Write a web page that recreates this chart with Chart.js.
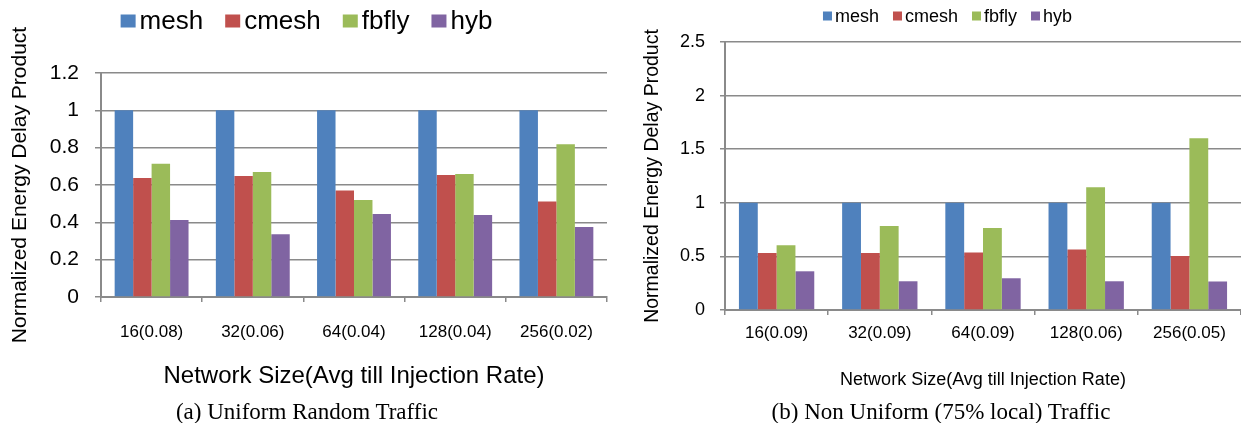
<!DOCTYPE html>
<html><head><meta charset="utf-8">
<script src="https://cdn.jsdelivr.net/npm/chart.js@4/dist/chart.umd.min.js"></script>
<style>
html,body{margin:0;padding:0;background:#fff;}
body{width:1241px;height:423px;position:relative;overflow:hidden;}
#ca{position:absolute;left:0;top:0;}
#cb{position:absolute;left:640px;top:0;}
.cap{position:absolute;font-family:'Liberation Serif','Times New Roman',serif;font-size:23px;color:#000;white-space:nowrap;transform:translate(-50%,-50%);line-height:1;}
</style></head><body>
<canvas id="ca" width="620" height="400"></canvas>
<canvas id="cb" width="601" height="400"></canvas>
<div class="cap" style="left:307px;top:411px">(a) Uniform Random Traffic</div>
<div class="cap" style="left:941px;top:411px">(b) Non Uniform (75% local) Traffic</div>
<script>
// ---- data ----
const seriesNames = ['mesh', 'cmesh', 'fbfly', 'hyb'];
const seriesColors = ['#4F81BD', '#C0504D', '#9BBB59', '#8064A2'];

const categoriesA = ['16(0.08)', '32(0.06)', '64(0.04)', '128(0.04)', '256(0.02)'];
const meshA  = [1, 1, 1, 1, 1];
const cmeshA = [0.637, 0.648, 0.570, 0.653, 0.511];
const fbflyA = [0.714, 0.669, 0.520, 0.659, 0.818];
const hybA   = [0.412, 0.336, 0.445, 0.439, 0.375];
const yTicksA = ['0', '0.2', '0.4', '0.6', '0.8', '1', '1.2'];

const categoriesB = ['16(0.09)', '32(0.09)', '64(0.09)', '128(0.06)', '256(0.05)'];
const meshB  = [1, 1, 1, 1, 1];
const cmeshB = [0.531, 0.531, 0.537, 0.565, 0.503];
const fbflyB = [0.604, 0.783, 0.764, 1.146, 1.603];
const hybB   = [0.361, 0.268, 0.296, 0.268, 0.266];
const yTicksB = ['0', '0.5', '1', '1.5', '2', '2.5'];

const yTitle = 'Normalized Energy Delay Product';
const xTitle = 'Network Size(Avg till Injection Rate)';

// ---- style ----
const FAM = "'Liberation Sans', Arial, sans-serif";
const GRID = '#8a8a8a';

const legendPlugin = {
  id: 'customLegend',
  afterDraw(chart, args, o) {
    const ctx = chart.ctx;
    ctx.save();
    ctx.font = o.fontSize + 'px ' + FAM;
    const items = chart.data.datasets.map(d => ({label: d.label, color: d.backgroundColor, w: ctx.measureText(d.label).width}));
    const total = items.reduce((s, it) => s + o.boxW + o.gap + it.w, 0) + o.spacing * (items.length - 1);
    let x = o.cx - total / 2;
    ctx.textBaseline = 'middle';
    ctx.textAlign = 'left';
    items.forEach(it => {
      ctx.fillStyle = it.color;
      ctx.fillRect(x, o.cy - o.boxH / 2, o.boxW, o.boxH);
      x += o.boxW + o.gap;
      ctx.fillStyle = '#000';
      ctx.fillText(it.label, x, o.cy + o.dy);
      x += it.w + o.spacing;
    });
    ctx.restore();
  }
};

function build(id, cats, series, yTicks, yMax, yStep, s) {
  const datasets = series.map((vals, i) => ({
    label: seriesNames[i],
    data: vals,
    backgroundColor: seriesColors[i],
    borderWidth: 0,
    categoryPercentage: 0.73,
    barPercentage: 1.0
  }));
  return new Chart(document.getElementById(id), {
    type: 'bar',
    data: {labels: cats, datasets},
    plugins: [legendPlugin],
    options: {
      responsive: false,
      animation: false,
      layout: {padding: {top: s.padTop, right: s.padRight, left: 0, bottom: 0}},
      plugins: {
        legend: {display: false},
        tooltip: {enabled: false},
        customLegend: s.legend
      },
      scales: {
        x: {
          grid: {drawOnChartArea: false, drawTicks: true, tickLength: 5, color: GRID, lineWidth: 1.5},
          border: {color: GRID, width: 2},
          ticks: {font: {family: FAM, size: s.xTickSize}, color: '#000', padding: s.xTickPad, maxRotation: 0, autoSkip: false},
          title: {display: true, text: xTitle, color: '#000', font: {family: FAM, size: s.xTitleSize}, padding: {top: 0, bottom: s.xTitlePad}},
          afterFit(sc) { sc.height = s.xHeight; }
        },
        y: {
          min: 0, max: yMax,
          grid: {color: GRID, lineWidth: 1.5, tickLength: s.yTickLen},
          border: {color: GRID, width: 2},
          ticks: {stepSize: yStep, font: {family: FAM, size: s.yTickSize}, color: '#000', padding: s.yTickPad,
                  callback: (v, i) => yTicks[i]},
          title: {display: true, text: yTitle, color: '#000', font: {family: FAM, size: s.yTitleSize}, padding: {top: s.yTitlePad, bottom: 0}},
          afterFit(sc) { sc.width = s.yWidth; }
        }
      }
    }
  });
}

build('ca', categoriesA, [meshA, cmeshA, fbflyA, hybA], yTicksA, 1.2, 0.2, {
  padTop: 73, padRight: 13, xHeight: 103, yWidth: 101,
  xTickSize: 17, xTickPad: 20, xTitleSize: 24, xTitlePad: 9.6,
  yTickSize: 21, yTickPad: 16, yTickLen: 6, yTitleSize: 21, yTitlePad: 8,
  legend: {cx: 306.5, cy: 21, boxW: 15, boxH: 13, gap: 4, spacing: 22, fontSize: 26, dy: 1}
});

build('cb', categoriesB, [meshB, cmeshB, fbflyB, hybB], yTicksB, 2.5, 0.5, {
  padTop: 42, padRight: 0, xHeight: 90, yWidth: 85,
  xTickSize: 17, xTickPad: 8, xTitleSize: 18, xTitlePad: 9.2,
  yTickSize: 18, yTickPad: 15, yTickLen: 5, yTitleSize: 19.5, yTitlePad: 1,
  legend: {cx: 307.5, cy: 16, boxW: 9, boxH: 9, gap: 3, spacing: 14, fontSize: 18, dy: 1}
});
</script>
</body></html>
